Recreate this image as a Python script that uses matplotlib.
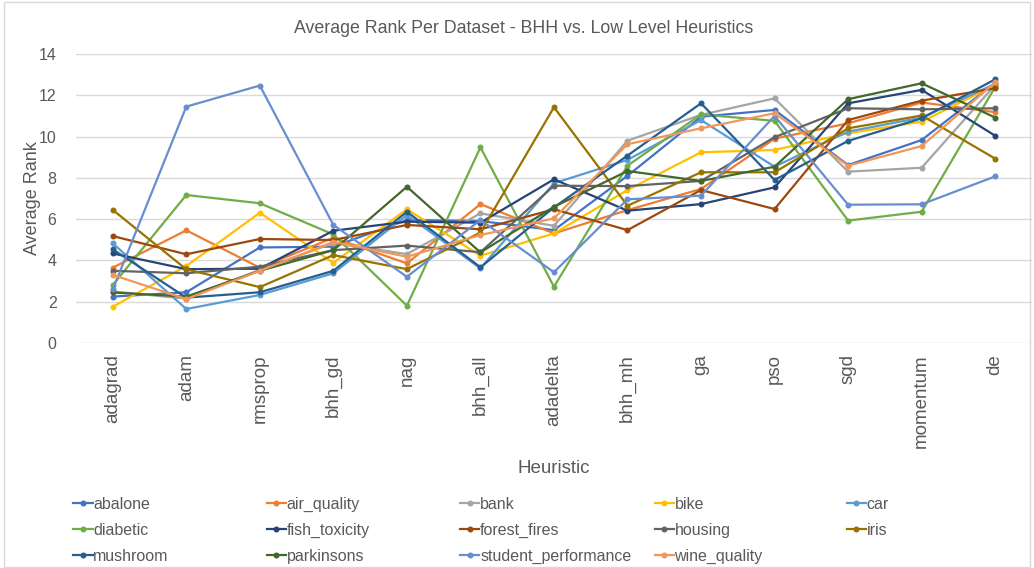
import matplotlib.pyplot as plt
from matplotlib.patches import Rectangle
import numpy as np

heuristics = ["adagrad", "adam", "rmsprop", "bhh_gd", "nag", "bhh_all", "adadelta",
              "bhh_mh", "ga", "pso", "sgd", "momentum", "de"]

datasets = ["abalone", "air_quality", "bank", "bike", "car", "diabetic", "fish_toxicity",
            "forest_fires", "housing", "iris", "mushroom", "parkinsons",
            "student_performance", "wine_quality"]

abalone = [2.25, 2.46, 4.63, 4.67, 5.96, 5.91, 5.47, 8.10, 10.96, 11.29, 8.62, 9.83, 12.60]
air_quality = [3.65, 5.46, 3.65, 5.10, 3.86, 6.73, 5.31, 6.44, 7.46, 9.90, 10.64, 11.65, 11.18]
bank = [2.50, 2.15, 3.55, 4.84, 4.31, 6.28, 5.68, 9.80, 11.05, 11.85, 8.30, 8.49, 12.50]
bike = [1.76, 3.73, 6.31, 3.89, 6.48, 4.23, 5.31, 7.41, 9.24, 9.35, 10.16, 10.72, 12.50]
car = [4.83, 1.65, 2.33, 3.38, 6.20, 3.62, 7.74, 8.87, 10.80, 8.54, 10.24, 10.92, 12.55]
diabetic = [2.81, 7.17, 6.77, 5.26, 1.81, 9.48, 2.73, 8.59, 11.07, 10.76, 5.93, 6.36, 12.40]
fish_toxicity = [4.34, 3.58, 3.60, 5.44, 5.88, 5.83, 7.93, 6.41, 6.73, 7.54, 11.61, 12.26, 10.04]
forest_fires = [5.18, 4.30, 5.04, 4.99, 5.72, 5.51, 6.48, 5.47, 7.41, 6.49, 10.80, 11.74, 12.34]
housing = [3.50, 3.38, 3.70, 4.50, 4.72, 4.40, 7.62, 7.60, 7.85, 9.97, 11.37, 11.32, 11.37]
iris = [6.45, 3.57, 2.71, 4.26, 3.58, 5.35, 11.42, 6.65, 8.27, 8.27, 10.40, 11.02, 8.93]
mushroom = [4.54, 2.20, 2.46, 3.50, 6.36, 3.67, 6.57, 9.08, 11.61, 7.90, 9.79, 10.88, 12.77]
parkinsons = [2.45, 2.25, 3.50, 4.50, 7.57, 4.39, 6.60, 8.33, 7.85, 8.54, 11.81, 12.58, 10.92]
student_performance = [2.60, 11.45, 12.47, 5.72, 3.21, 5.96, 3.43, 6.96, 7.14, 11.00, 6.70, 6.72, 8.07]
wine_quality = [3.30, 2.13, 3.50, 4.90, 4.18, 5.23, 6.04, 9.63, 10.40, 11.13, 8.59, 9.54, 12.63]

series = [abalone, air_quality, bank, bike, car, diabetic, fish_toxicity, forest_fires,
          housing, iris, mushroom, parkinsons, student_performance, wine_quality]

colors = ["#4472C4", "#ED7D31", "#A5A5A5", "#FFC000", "#5B9BD5", "#70AD47", "#264478",
          "#9E480E", "#636363", "#997300", "#255E91", "#43682B", "#698ED0", "#F1975A"]

plt.rcParams['font.family'] = ['Liberation Sans', 'DejaVu Sans']
txt = "#595959"

fig = plt.figure(figsize=(10.34, 5.68), dpi=100)
ax = fig.add_axes([0.0735, 0.396, 0.9245, 0.509])

x = np.arange(len(heuristics))
handles = []
for name, vals, c in zip(datasets, series, colors):
    h, = ax.plot(x, vals, '-o', color=c, lw=1.6, ms=3.3, label=name)
    handles.append(h)

ax.set_xlim(-0.5, len(heuristics) - 0.5)
ax.set_ylim(0, 14)
ax.set_yticks(range(0, 15, 2))
ax.set_xticks(x)
ax.set_xticklabels(heuristics, rotation=90, fontsize=13.5, color=txt)
ax.tick_params(axis='y', labelsize=11.5, colors=txt, length=0, pad=14)
ax.tick_params(axis='x', length=0, pad=8)
ax.grid(axis='y', color='#D9D9D9', lw=1)
ax.set_axisbelow(True)
for s in ax.spines.values():
    s.set_visible(False)

fig.text(0.506, 0.950, "Average Rank Per Dataset - BHH vs. Low Level Heuristics",
         fontsize=12.8, color=txt, ha='center', va='center')
ax.set_ylabel("Average Rank", fontsize=13, color=txt, labelpad=-2)
fig.text(0.536, 0.176, "Heuristic", fontsize=13.5, color=txt, ha='center', va='center')

# legend in five equal columns, filled row by row like the original
col_x = [0.071, 0.258, 0.445, 0.633, 0.819]
for j in range(5):
    hs = handles[j::5]
    fig.legend(handles=hs, labels=[h.get_label() for h in hs],
               loc='upper left', bbox_to_anchor=(col_x[j], 0.125),
               bbox_transform=fig.transFigure, frameon=False, fontsize=11.5,
               handlelength=1.2, handletextpad=0.05, labelspacing=0.68,
               labelcolor=txt, borderaxespad=0, borderpad=0)

fig.add_artist(Rectangle((0.004, 0.002), 0.992, 0.995, transform=fig.transFigure,
                         fill=False, edgecolor='#D9D9D9', lw=1))

fig.savefig("out.png", dpi=100)
